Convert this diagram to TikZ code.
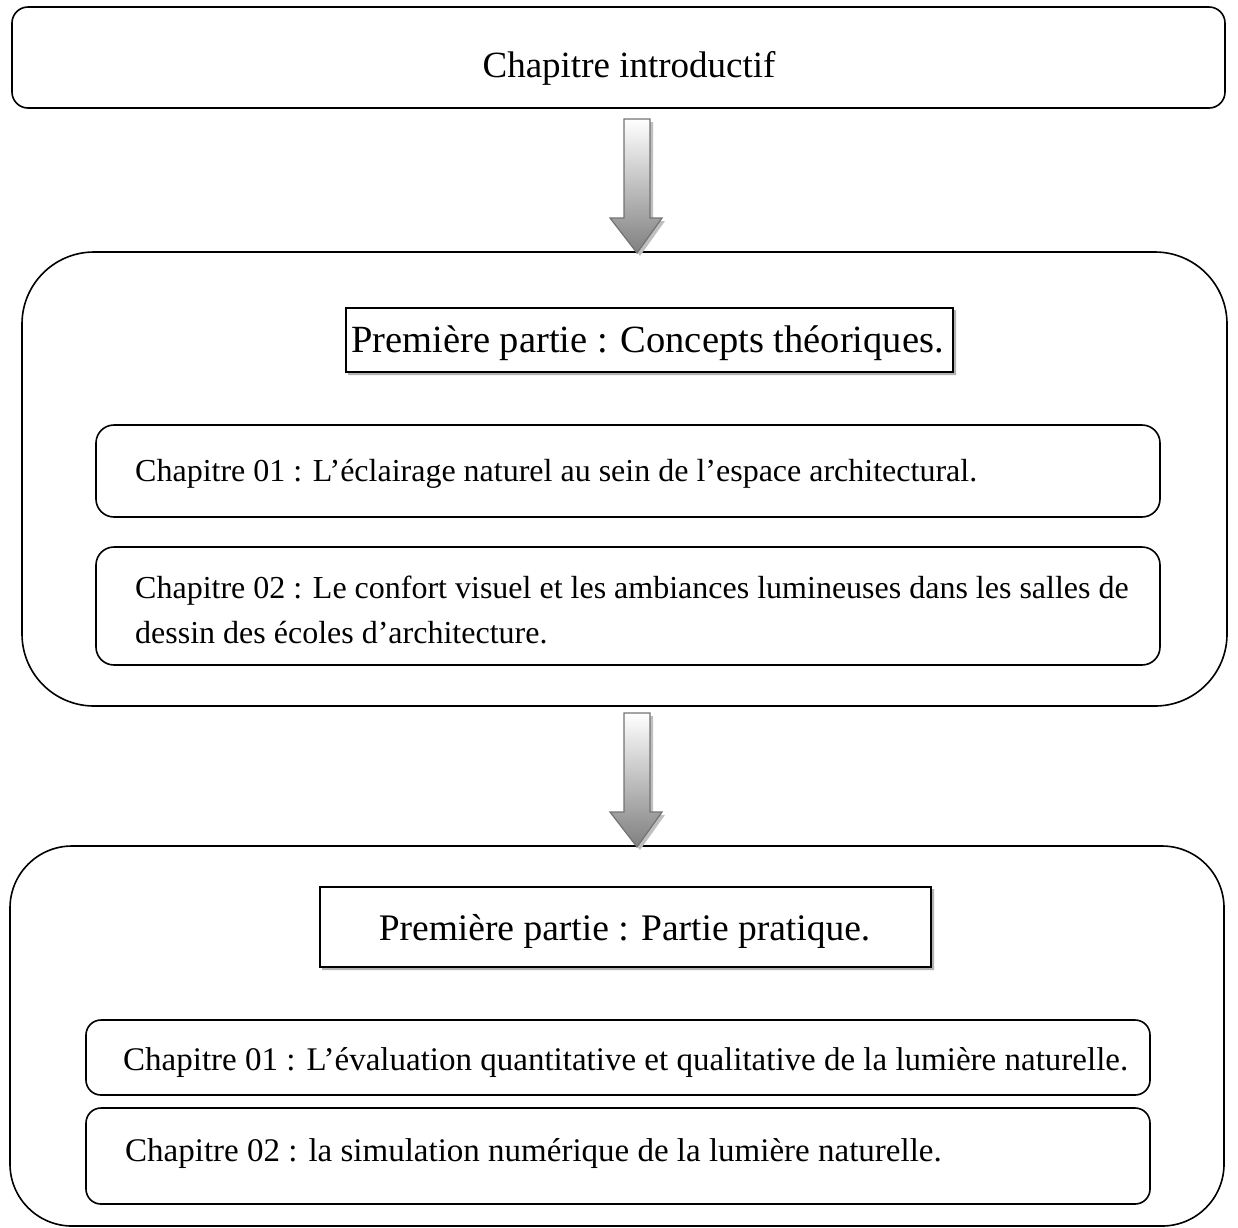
\documentclass[tikz,border=0pt]{standalone}
\usepackage{fontspec}
\setmainfont{Liberation Serif}
\newcommand\ChapFont{\fontsize{32}{45}\selectfont}
\newcommand\ChapFontB{\fontsize{33}{45}\selectfont}
\newcommand\HeadFont{\fontsize{38.5}{46}\selectfont}
\newcommand\BlockArrowAt[1]{%
  \begin{scope}[shift={(0,#1)}]
    \fill[black!25] (627,3) -- (653,3) -- (653,102) -- (665,102) -- (640,137) -- (613,102) -- (627,102) -- cycle;
    \draw[draw=black!55, line width=1.2pt, top color=white, bottom color=black!50]
      (624,0) -- (650,0) -- (650,99) -- (662,99) -- (637,134) -- (610,99) -- (624,99) -- cycle;
  \end{scope}}
\begin{document}
\begin{tikzpicture}[x=1pt,y=-1pt,
  frame/.style={draw, line width=1.6pt, inner sep=0pt, rounded corners=#1},
  frame/.default=0pt,
  headframe/.style={draw, line width=1.6pt, inner sep=0pt},
  chaptext/.style={anchor=base west, inner sep=0pt, font=\ChapFont, align=left},
  headtext/.style={anchor=base, inner sep=0pt, font=\HeadFont}]
\useasboundingbox (0,0) rectangle (1238,1227);
% boxes
\node[frame=16pt, minimum width=1213pt, minimum height=101pt] (top) at (618.5,57.5) {};
\node[frame=72pt, minimum width=1205pt, minimum height=454pt] (part1) at (624.5,479) {};
\fill[black!30] (953,310) rectangle (956,375) (348,372) rectangle (956,375);
\node[headframe, fill=white, minimum width=607pt, minimum height=64pt] (head1) at (649.5,340) {};
\node[frame=18pt, minimum width=1064pt, minimum height=92pt] (ch11) at (628,471) {};
\node[frame=18pt, minimum width=1064pt, minimum height=118pt] (ch12) at (628,606) {};
\node[frame=62pt, minimum width=1214pt, minimum height=380pt] (part2) at (617,1036) {};
\fill[black!30] (931,889) rectangle (934,970) (322,967) rectangle (934,970);
\node[headframe, fill=white, minimum width=611pt, minimum height=80pt] (head2) at (625.5,927) {};
\node[frame=15pt, minimum width=1064pt, minimum height=75pt] (ch21) at (618,1057.5) {};
\node[frame=15pt, minimum width=1064pt, minimum height=96pt] (ch22) at (618,1156) {};
% texts
\node[headtext, font=\fontsize{37}{44}\selectfont] (ttop) at (629,77) {Chapitre introductif};
\node[headtext] (th1) at (647.5,352) {Première partie : Concepts théoriques.};
\node[chaptext] (t11) at (135,481) {Chapitre 01 : L’éclairage naturel au sein de l’espace architectural.};
\node[chaptext, anchor=north west] (t12) at (135,576) {Chapitre 02 : Le confort visuel et les ambiances lumineuses dans les salles de\\dessin des écoles d’architecture.};
\node[headtext, font=\fontsize{37.5}{44}\selectfont] (th2) at (624.5,940) {Première partie : Partie pratique.};
\node[chaptext, font=\ChapFontB] (t21) at (123,1070) {Chapitre 01 : L’évaluation quantitative et qualitative de la lumière naturelle.};
\node[chaptext, font=\ChapFontB] (t22) at (125,1161) {Chapitre 02 : la simulation numérique de la lumière naturelle.};
% block arrows
\BlockArrowAt{119}
\BlockArrowAt{713}
\end{tikzpicture}
\end{document}
